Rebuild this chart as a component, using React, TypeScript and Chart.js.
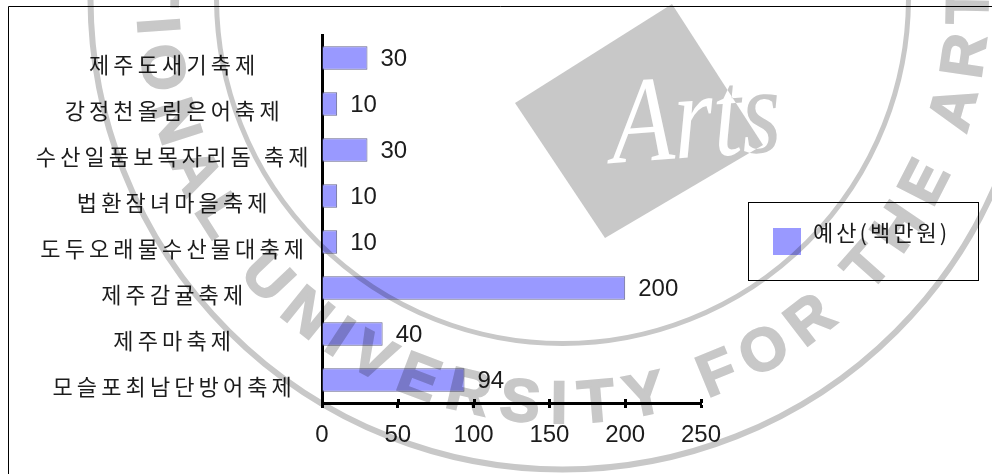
import React, { useEffect, useRef } from "react";
import { Chart, registerables } from "chart.js";

Chart.register(...registerables);

const categories = [
  "제주도새기축제",
  "강정천올림은어축제",
  "수산일품보목자리돔 축제",
  "법환잠녀마을축제",
  "도두오래물수산물대축제",
  "제주감귤축제",
  "제주마축제",
  "모슬포최남단방어축제",
];
const budget = [30, 10, 30, 10, 10, 200, 40, 94];
const seriesLabel = "예산(백만원)";
const xTicks = [0, 50, 100, 150, 200, 250];
const stampRingText = "NATIONAL UNIVERSITY FOR THE ARTS";
const stampLogoText = "Arts";

const HANGUL_FONT = '"Noto Sans CJK KR", sans-serif';
const LATIN_FONT = '"Liberation Sans", Arial, sans-serif';
const INK = "#1c1c1c";
const BAR_FILL = "#9999FF";
const BAR_EDGE = "#66668c";
const STAMP = "#c8c8c8";

// Value captions just past the end of each bar.
const barValues = {
  id: "barValues",
  afterDatasetsDraw(chart: any) {
    const { ctx } = chart;
    ctx.save();
    ctx.font = `24px ${LATIN_FONT}`;
    ctx.fillStyle = INK;
    ctx.textAlign = "left";
    ctx.textBaseline = "middle";
    chart.getDatasetMeta(0).data.forEach((bar: any, i: number) => {
      ctx.fillText(String(budget[i]), bar.x + 13, bar.y + 1);
    });
    ctx.restore();
  },
};

// Outer sheet edge, upper half of the x-axis ticks and the boxed legend.
const chartFurniture = {
  id: "chartFurniture",
  afterDraw(chart: any) {
    const { ctx, scales } = chart;
    ctx.save();
    ctx.strokeStyle = "#000";
    ctx.lineWidth = 1;
    ctx.beginPath();
    ctx.moveTo(8.5, 474);
    ctx.lineTo(8.5, 6.5);
    ctx.lineTo(992, 6.5);
    ctx.stroke();

    ctx.fillStyle = "#000";
    scales.x.ticks.forEach((t: any) => {
      const x = Math.round(scales.x.getPixelForValue(t.value));
      ctx.fillRect(x - 1, chart.chartArea.bottom - 4, 3, 4);
    });

    ctx.strokeRect(748.5, 202.5, 230, 78);
    ctx.fillStyle = chart.data.datasets[0].backgroundColor;
    ctx.fillRect(773, 228, 28, 27);
    ctx.fillStyle = INK;
    ctx.font = `22px ${HANGUL_FONT}`;
    ctx.textAlign = "left";
    ctx.textBaseline = "middle";
    ctx.letterSpacing = "3px";
    ctx.fillText(chart.data.datasets[0].label, 813, 233);
    ctx.restore();
  },
};

function paintStamp(g: CanvasRenderingContext2D) {
  const cx = 562.5;
  const cy = -2.5;
  const textRadius = 409;
  const tracking = 10.8;
  g.fillStyle = "#fff";
  g.fillRect(0, 0, 992, 474);
  g.strokeStyle = STAMP;
  g.fillStyle = STAMP;

  g.lineWidth = 5;
  g.beginPath();
  g.arc(cx, cy, 346, 0, Math.PI * 2);
  g.stroke();
  g.lineWidth = 6;
  g.beginPath();
  g.arc(cx, cy, 472, 0, Math.PI * 2);
  g.stroke();

  // Lettering runs along the band between the two rings, spaced by glyph width.
  g.font = `bold 60px ${LATIN_FONT}`;
  g.textAlign = "center";
  g.textBaseline = "middle";
  g.lineWidth = 2;
  let angle = (200.5 * Math.PI) / 180;
  let prevHalf = 0;
  for (const ch of stampRingText) {
    const w = g.measureText(ch).width;
    angle -= (prevHalf + w / 2 + tracking) / textRadius;
    prevHalf = w / 2;
    if (ch === " ") continue;
    g.save();
    g.translate(cx + textRadius * Math.cos(angle), cy + textRadius * Math.sin(angle));
    g.rotate(angle - Math.PI / 2);
    g.fillText(ch, 0, 0);
    g.strokeText(ch, 0, 0);
    g.restore();
  }

  // Tilted square with the script logotype: white inside, grey where it runs out.
  const square = new Path2D("M672 4 L515 103 L605 238 L763 145 Z");
  const writeLogo = (fill: string) => {
    g.save();
    g.translate(613, 163);
    g.scale(1, 1.2);
    g.rotate(-0.06);
    g.font = `italic 102px "Liberation Serif", serif`;
    g.textAlign = "left";
    g.textBaseline = "alphabetic";
    g.fillStyle = fill;
    g.fillText(stampLogoText, 0, 0);
    g.restore();
  };
  writeLogo(STAMP);
  g.fill(square);
  g.save();
  g.clip(square);
  writeLogo("#fff");
  g.restore();
}

// The stamp sits over everything, so marks beneath it darken rather than vanish.
const stampOverlay = {
  id: "stampOverlay",
  afterDraw(chart: any) {
    const layer = document.createElement("canvas");
    layer.width = 992;
    layer.height = 474;
    paintStamp(layer.getContext("2d")!);
    const { ctx } = chart;
    ctx.save();
    ctx.globalCompositeOperation = "multiply";
    ctx.drawImage(layer, 0, 0);
    ctx.restore();
  },
};

export default function App() {
  const ref = useRef<HTMLCanvasElement>(null);

  useEffect(() => {
    document.body.style.margin = "0";
    document.body.style.background = "#fff";
    const canvas = ref.current!;
    const chart = new Chart(canvas, {
      type: "bar",
      data: {
        labels: categories,
        datasets: [
          {
            label: seriesLabel,
            data: budget,
            backgroundColor: BAR_FILL,
            borderColor: BAR_EDGE,
            borderWidth: 1,
            barPercentage: 0.51,
            categoryPercentage: 1,
          },
        ],
      },
      options: {
        indexAxis: "y",
        responsive: false,
        animation: false,
        layout: { padding: { top: 35, right: 291, bottom: 0, left: 0 } },
        plugins: { legend: { display: false }, tooltip: { enabled: false } },
        scales: {
          x: {
            min: 0,
            max: 250,
            afterBuildTicks(scale: any) {
              scale.ticks = xTicks.map((value) => ({ value }));
            },
            afterFit(scale: any) {
              scale.height = 71;
              scale.paddingLeft = 0;
              scale.paddingRight = 0;
            },
            grid: {
              drawOnChartArea: false,
              drawTicks: true,
              tickLength: 5,
              tickWidth: 3,
              tickColor: "#000",
            },
            border: { color: "#000", width: 3 },
            ticks: {
              color: INK,
              font: { family: LATIN_FONT, size: 24 },
              padding: 13,
              maxRotation: 0,
              autoSkip: false,
            },
          },
          y: {
            afterFit(scale: any) {
              scale.width = 322;
              scale.paddingTop = 0;
              scale.paddingBottom = 0;
              if (!scale.spacedLabels) {
                // Category names are set with wide tracking.
                scale.spacedLabels = true;
                const draw = scale.drawLabels.bind(scale);
                scale.drawLabels = (area: any) => {
                  scale.ctx.letterSpacing = "4.1px";
                  draw(area);
                  scale.ctx.letterSpacing = "0px";
                };
              }
            },
            grid: { drawOnChartArea: false, drawTicks: false },
            border: { color: "#000", width: 3 },
            ticks: {
              color: INK,
              font: { family: HANGUL_FONT, size: 22 },
              crossAlign: "center",
              padding: 34,
              labelOffset: 7,
              autoSkip: false,
            },
          },
        },
      },
      plugins: [barValues, chartFurniture, stampOverlay],
    } as any);
    return () => chart.destroy();
  }, []);

  return <canvas ref={ref} width={992} height={474} style={{ display: "block" }} />;
}
